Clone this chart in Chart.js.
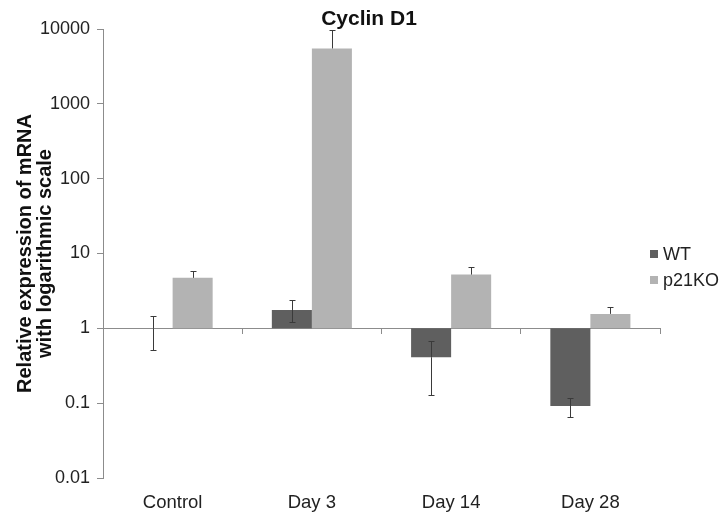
<!DOCTYPE html>
<html><head><meta charset="utf-8">
<script src="https://cdn.jsdelivr.net/npm/chart.js@4"></script>
<style>html,body{margin:0;padding:0;background:#fff}#wrap{width:720px;height:512px}</style>
</head><body><div id="wrap"><canvas id="c" width="720" height="512"></canvas></div>
<script>
const categories = ['Control', 'Day 3', 'Day 14', 'Day 28'];
const wtValues = [1, 1.76, 0.41, 0.092];
const wtErrHigh = [1.48, 2.4, 0.68, 0.119];
const wtErrLow = [0.514, 1.22, 0.13, 0.066];
const koValues = [4.73, 5500, 5.23, 1.56];
const koErrHigh = [5.92, 9670, 6.56, 1.95];
const yTicks = [0.01, 0.1, 1, 10, 100, 1000, 10000];
const baseValue = 1;

const FONT = "'Liberation Sans', Arial, sans-serif";
const AXIS = '#8c8c8c';

const errHighs = [wtErrHigh, koErrHigh];
const errLows = [wtErrLow, null];

const errorBars = {
  id: 'errorBars',
  afterDatasetsDraw(chart) {
    const ctx = chart.ctx, y = chart.scales.y;
    chart.data.datasets.forEach((ds, di) => {
      const meta = chart.getDatasetMeta(di);
      meta.data.forEach((bar, i) => {
        const hi = errHighs[di] ? errHighs[di][i] : null;
        const lo = errLows[di] ? errLows[di][i] : null;
        const yv = y.getPixelForValue(ds.data[i][1]);
        const x = Math.round(bar.x) + 0.5;
        ctx.save();
        ctx.strokeStyle = '#3a3a3a';
        ctx.lineWidth = 1;
        ctx.beginPath();
        [hi, lo].forEach(v => {
          if (v == null) return;
          const py = Math.round(y.getPixelForValue(v)) + 0.5;
          ctx.moveTo(x, yv); ctx.lineTo(x, py);
          ctx.moveTo(x - 3, py); ctx.lineTo(x + 3, py);
        });
        ctx.stroke();
        ctx.restore();
      });
    });
  }
};

const extras = {
  id: 'extras',
  afterDraw(chart) {
    const ctx = chart.ctx;
    ctx.save();
    ctx.fillStyle = '#111';
    ctx.font = "bold 21px " + FONT;
    ctx.textAlign = 'center';
    ctx.textBaseline = 'middle';
    ctx.fillText('Cyclin D1', 369, 19);
    ctx.font = "18px " + FONT;
    ctx.textAlign = 'left';
    chart.data.datasets.forEach((ds, i) => {
      const cy = 254 + i * 26;
      ctx.fillStyle = ds.backgroundColor;
      ctx.fillRect(650, cy - 4, 8, 8);
      ctx.fillStyle = '#222';
      ctx.fillText(ds.label, 663, cy + 1);
    });
    ctx.restore();
  }
};

new Chart(document.getElementById('c'), {
  type: 'bar',
  data: {
    labels: categories,
    datasets: [
      { label: 'WT', data: wtValues.map(v => [baseValue, v]), backgroundColor: '#5f5f5f',
        borderWidth: 0, borderSkipped: false },
      { label: 'p21KO', data: koValues.map(v => [baseValue, v]), backgroundColor: '#b3b3b3',
        borderWidth: 0, borderSkipped: false }
    ]
  },
  options: {
    responsive: false,
    animation: false,
    devicePixelRatio: 1,
    layout: { padding: { left: 0, right: 60, top: 29, bottom: 0 } },
    datasets: { bar: { barPercentage: 1, categoryPercentage: 0.575 } },
    plugins: { legend: { display: false }, title: { display: false }, tooltip: { enabled: false } },
    scales: {
      x: {
        type: 'category',
        position: 'bottom',
        grid: { display: false },
        border: { display: false },
        ticks: { color: '#222', font: { family: FONT, size: 18.5 }, padding: 6 },
        afterFit: s => { s.height = 34; }
      },
      x2: {
        type: 'category',
        axis: 'x',
        labels: categories,
        position: { y: baseValue },
        offset: true,
        grid: { offset: true, drawOnChartArea: false, tickLength: 5, color: AXIS },
        border: { color: AXIS },
        ticks: { display: false }
      },
      y: {
        type: 'logarithmic',
        min: yTicks[0],
        max: yTicks[yTicks.length - 1],
        afterBuildTicks: s => { s.ticks = yTicks.map(v => ({ value: v })); },
        grid: { drawOnChartArea: false, tickLength: 6, color: AXIS },
        border: { color: AXIS },
        ticks: { color: '#222', font: { family: FONT, size: 18 }, padding: 7,
                 callback: v => String(v) },
        title: { display: true, text: ['Relative expression of mRNA', 'with logarithmic scale'],
                 color: '#111', font: { family: FONT, size: 20, weight: 'bold', lineHeight: 1.02 },
                 padding: { top: 15, bottom: 0 } },
        afterFit: s => { s.width = 103; }
      }
    }
  },
  plugins: [errorBars, extras]
});
</script></body></html>
